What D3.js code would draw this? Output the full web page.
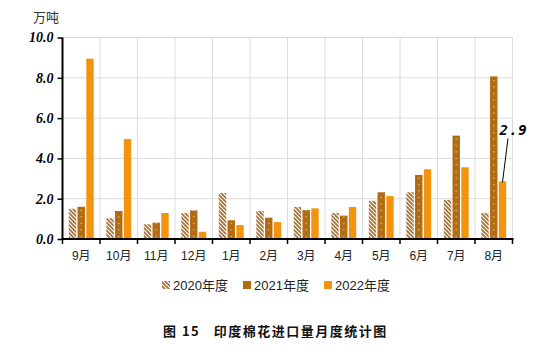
<!DOCTYPE html>
<html><head><meta charset="utf-8">
<script src="https://cdn.jsdelivr.net/npm/d3@7"></script>
<style>body{margin:0;background:#fff}svg{display:block}</style>
</head><body><svg id="c" width="553" height="358"></svg>
<script>
const months = ["9月","10月","11月","12月","1月","2月","3月","4月","5月","6月","7月","8月"];
const seriesNames = ["2020年度","2021年度","2022年度"];
const v2020 = [1.5,1.03,0.73,1.29,2.28,1.39,1.59,1.29,1.9,2.32,1.94,1.29];
const v2021 = [1.6,1.39,0.81,1.42,0.93,1.06,1.44,1.16,2.32,3.18,5.13,8.07];
const v2022 = [8.95,4.96,1.29,0.36,0.69,0.84,1.52,1.59,2.13,3.46,3.56,2.86];
const yTicks = [0,2,4,6,8,10];
const annotation = {month:"8月", series:"2022年度", text:"2.9"};

const svg = d3.select("#c");
const L=62.5,R=512.5,T=37.5,B=239;
const x = d3.scaleBand().domain(months).range([L,R]).padding(0);
const xi = d3.scaleBand().domain(seriesNames).range([0,x.bandwidth()]).paddingInner(0.15).paddingOuter(0.72);
const y = d3.scaleLinear().domain([0,10]).range([B,T]);
const data = seriesNames.map((s,i)=>({s, vals:[v2020,v2021,v2022][i]}));

const defs = svg.append("defs");
const p1 = defs.append("pattern").attr("id","hatch").attr("patternUnits","userSpaceOnUse").attr("width",4).attr("height",4);
p1.append("rect").attr("width",4).attr("height",4).attr("fill","#fff");
p1.append("path").attr("d","M-1,-1L5,5M-1,3L1,5M3,-1L5,1").attr("stroke","#b0702a").attr("stroke-width",1.7);
const p2 = defs.append("pattern").attr("id","dots").attr("patternUnits","userSpaceOnUse")
  .attr("x",L).attr("y",0).attr("width",x.step()).attr("height",6.5);
p2.append("rect").attr("width",x.step()).attr("height",6.5).attr("fill","#b36b12");
p2.append("rect").attr("x",xi("2021年度")+xi.bandwidth()/2-0.5).attr("y",2).attr("width",1).attr("height",1).attr("fill","#fff");
p2.append("rect").attr("x",xi("2021年度")+xi.bandwidth()/2-0.5+x.step()).attr("y",2).attr("width",1).attr("height",1).attr("fill","#fff");
const fills = {"2020年度":"url(#hatch)","2021年度":"url(#dots)","2022年度":"#f39410"};

// grid
const g = svg.append("g");
g.selectAll(".hg").data(yTicks.filter(d=>d>0)).join("line")
  .attr("x1",L).attr("x2",R).attr("y1",d=>y(d)).attr("y2",d=>y(d)).attr("stroke","#dcdcdc").attr("stroke-width",1);
g.selectAll(".vg").data(months.slice(1).map(m=>x(m)).concat([R])).join("line")
  .attr("x1",d=>d).attr("x2",d=>d).attr("y1",T).attr("y2",B).attr("stroke","#dcdcdc").attr("stroke-width",1);

// bars
data.forEach(d=>{
  svg.append("g").selectAll("rect").data(d.vals).join("rect")
    .attr("x",(v,i)=>x(months[i])+xi(d.s)).attr("width",xi.bandwidth())
    .attr("y",v=>y(v)).attr("height",v=>B-y(v)).attr("fill",fills[d.s]);
});

// axes
const ya = svg.append("g").attr("transform",`translate(${L},0)`)
  .call(d3.axisLeft(y).tickValues(yTicks).tickFormat(d3.format(".1f")).tickSize(5).tickPadding(4));
ya.select(".domain").attr("stroke","#000").attr("stroke-width",2).attr("d",`M0,${T}V${B}`);
ya.selectAll(".tick line").attr("stroke","#000").attr("stroke-width",1.5);
ya.selectAll("text").attr("font-family","Liberation Serif").attr("font-weight","bold").attr("font-style","italic").attr("font-size",14).attr("fill","#000");

const xa = svg.append("g").attr("transform",`translate(0,${B})`);
xa.append("line").attr("x1",L-1).attr("x2",R+1).attr("stroke","#000").attr("stroke-width",2);
xa.selectAll(".tk").data(months.map(m=>x(m)).concat([R])).join("line")
  .attr("x1",d=>d).attr("x2",d=>d).attr("y1",0).attr("y2",5).attr("stroke","#000").attr("stroke-width",1.5);
xa.selectAll("text").data(months).join("text").attr("x",m=>x(m)+x.bandwidth()/2).attr("y",21)
  .attr("text-anchor","middle").attr("font-family","Liberation Sans, Noto Sans CJK SC").attr("font-size",12).attr("fill","#222").text(m=>m);

// unit
svg.append("text").attr("x",33).attr("y",22).attr("font-family","Noto Sans CJK SC").attr("font-size",13).attr("fill","#333").text("万吨");

// annotation
const ai = months.indexOf(annotation.month);
const av = v2022[ai];
const ax = x(annotation.month)+xi(annotation.series)+xi.bandwidth()/2;
svg.append("line").attr("x1",ax).attr("y1",y(av)+1).attr("x2",ax+5.5).attr("y2",y(av)-43).attr("stroke","#000").attr("stroke-width",1);
svg.append("text").attr("x",ax-3).attr("y",y(av)-46).attr("font-family","DejaVu Sans Mono").attr("font-weight","bold").attr("font-style","italic")
  .attr("font-size",14).attr("letter-spacing",1).attr("fill","#000").text(annotation.text);

// legend
const lx = [162,243,324];
const leg = svg.append("g");
seriesNames.forEach((s,i)=>{
  leg.append("rect").attr("x",lx[i]).attr("y",281).attr("width",8).attr("height",8).attr("fill",fills[s]);
  leg.append("text").attr("x",lx[i]+11).attr("y",290).attr("font-family","Liberation Sans, Noto Sans CJK SC").attr("font-size",13).attr("fill","#222").text(s);
});

// title
svg.append("text").attr("x",163).attr("y",336).attr("font-family","Noto Sans CJK SC").attr("font-weight","bold").attr("font-size",13).attr("fill","#111")
  .style("white-space","pre").attr("letter-spacing",1.5).text("图 15   印度棉花进口量月度统计图");
</script></body></html>
